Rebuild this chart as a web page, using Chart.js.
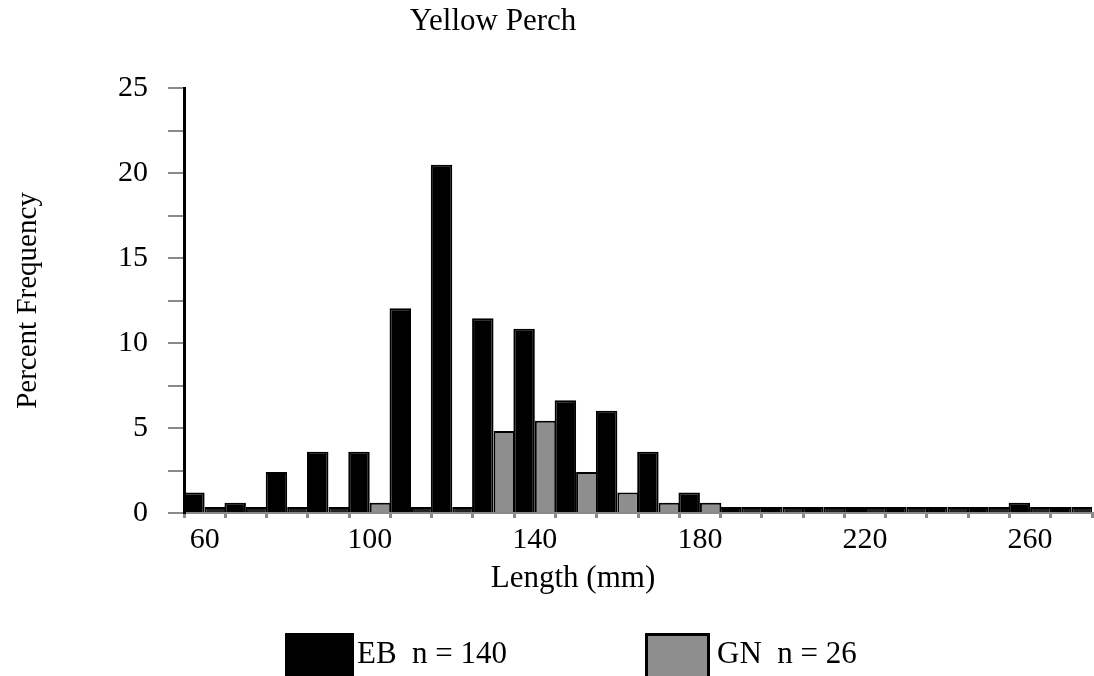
<!DOCTYPE html>
<html>
<head>
<meta charset="utf-8">
<title>Yellow Perch</title>
<script src="https://cdn.jsdelivr.net/npm/chart.js@4.4.1/dist/chart.umd.min.js"></script>
<style>
  html, body { margin: 0; padding: 0; background: #fff; overflow: hidden; }
  #wrap { position: relative; width: 1094px; height: 676px; font-family: 'Liberation Serif', 'Times New Roman', serif; color: #000; }
  #chart { position: absolute; left: 0; top: 0; }
  .txt { position: absolute; font-size: 31px; line-height: 31px; white-space: pre; }
  #title { left: 0; width: 986px; text-align: center; top: 4px; }
  #xTitle { left: 0; width: 1146px; text-align: center; top: 561px; }
  .swatch { position: absolute; box-sizing: border-box; }
</style>
</head>
<body>
<div id="wrap">
  <canvas id="chart" width="1094" height="676"></canvas>
  <div id="title" class="txt">Yellow Perch</div>
  <div id="xTitle" class="txt">Length (mm)</div>
  <div class="swatch" style="left:285px; top:633px; width:69px; height:46px; background:#000;"></div>
  <div class="txt" style="left:357px; top:637px;">EB  n = 140</div>
  <div class="swatch" style="left:645px; top:633px; width:65px; height:46px; background:#8e8e8e; border:3px solid #000;"></div>
  <div class="txt" style="left:717px; top:637px;">GN  n = 26</div>
</div>

<script>
/* ---------- data (percent of all 166 fish, per 10 mm length class) ---------- */
const lengthClasses = [60, 70, 80, 90, 100, 110, 120, 130, 140, 150, 160,
                       170, 180, 190, 200, 210, 220, 230, 240, 250, 260, 270];
const ebPercent = [1.20, 0.60, 2.41, 3.61, 3.61, 12.05, 20.48, 11.45, 10.84, 6.63, 6.02,
                   3.61, 1.20, 0, 0, 0, 0, 0, 0, 0, 0.60, 0];
const gnPercent = [0, 0, 0, 0, 0.60, 0, 0, 4.82, 5.42, 2.41, 1.20,
                   0.60, 0.60, 0, 0, 0, 0, 0, 0, 0, 0, 0];
const yTickLabels = [0, 5, 10, 15, 20, 25];

const GRAY = '#8e8e8e';
const AXIS_GRAY = '#8a8a8a';
const FONT = "'Liberation Serif', 'Times New Roman', serif";

const ctx = document.getElementById('chart').getContext('2d');

new Chart(ctx, {
  type: 'bar',
  data: {
    labels: lengthClasses.map(String),
    datasets: [
      { label: 'EB  n = 140', data: ebPercent, backgroundColor: '#000', borderColor: '#000', borderWidth: 2 },
      {
        label: 'GN  n = 26',
        data: gnPercent,
        // empty classes read as a dark strip on the axis in the original
        backgroundColor: (c) => (c.raw === 0 ? '#222' : GRAY),
        borderColor: '#000',
        borderWidth: 2
      }
    ]
  },
  options: {
    responsive: false,
    animation: false,
    devicePixelRatio: 1,
    layout: { padding: { top: 88, right: 2, left: 0, bottom: 0 } },
    datasets: {
      bar: { categoryPercentage: 1.04, barPercentage: 1.0, minBarLength: 6 }
    },
    plugins: {
      legend: { display: false },
      title: { display: false },
      tooltip: { enabled: false }
    },
    scales: {
      x: {
        afterFit: (s) => { s.height = 676 - 513; },
        border: { color: AXIS_GRAY, width: 2 },
        grid: { offset: true, drawOnChartArea: false, tickLength: 5, color: AXIS_GRAY, lineWidth: 3 },
        ticks: {
          autoSkip: false,
          maxRotation: 0,
          padding: 4,
          color: '#000',
          font: { family: FONT, size: 30 },
          callback: (v, i) => (i % 4 === 0 ? lengthClasses[i] : '')
        }
      },
      y: {
        min: 0,
        max: 25,
        afterFit: (s) => { s.width = 184; },
        border: { color: '#000', width: 3 },
        grid: { drawOnChartArea: false, tickLength: 16, color: AXIS_GRAY, lineWidth: 2 },
        ticks: {
          stepSize: 2.5,
          padding: 20,
          color: '#000',
          font: { family: FONT, size: 30 },
          callback: (v) => (yTickLabels.includes(v) ? v : '')
        },
        title: {
          display: true,
          text: 'Percent Frequency',
          color: '#000',
          padding: { top: 11, bottom: 0 },
          font: { family: FONT, size: 29 }
        }
      }
    }
  }
});
</script>
</body>
</html>
